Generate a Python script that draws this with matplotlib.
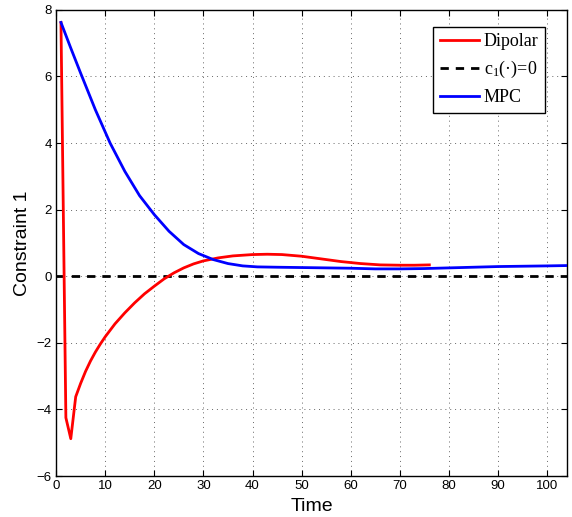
import matplotlib
matplotlib.use("Agg")
import matplotlib.pyplot as plt
import numpy as np

plt.rcParams["mathtext.fontset"] = "custom"
plt.rcParams["mathtext.rm"] = "Liberation Serif"
plt.rcParams["mathtext.it"] = "Liberation Serif:italic"

dip_x = [1, 2, 3, 4, 5, 6, 7, 8, 9, 10, 12, 14, 16, 18, 20, 22, 24, 26, 28, 30, 33, 36, 40, 43, 46, 50, 54, 58, 62, 66, 70, 73, 76]
dip_y = [7.62, -4.25, -4.88, -3.62, -3.22, -2.86, -2.55, -2.28, -2.04, -1.82, -1.43, -1.10, -0.80, -0.53, -0.30, -0.08, 0.10, 0.25, 0.37, 0.46, 0.55, 0.61, 0.65, 0.66, 0.65, 0.60, 0.52, 0.44, 0.38, 0.34, 0.33, 0.33, 0.34]

mpc_x = [1, 3, 5, 8, 11, 14, 17, 20, 23, 26, 29, 32, 35, 38, 41, 45, 50, 55, 60, 65, 70, 75, 80, 85, 90, 95, 100, 104]
mpc_y = [7.62, 6.85, 6.1, 5.0, 4.0, 3.15, 2.42, 1.85, 1.35, 0.95, 0.68, 0.50, 0.38, 0.31, 0.28, 0.27, 0.26, 0.25, 0.24, 0.22, 0.22, 0.23, 0.25, 0.27, 0.29, 0.30, 0.31, 0.32]

zero_x = [0, 104]
zero_y = [0, 0]

xticks = [0, 10, 20, 30, 40, 50, 60, 70, 80, 90, 100]
yticks = [-6, -4, -2, 0, 2, 4, 6, 8]

fig = plt.figure(figsize=(5.72, 5.17), dpi=100)
ax = fig.add_axes([0.098, 0.0793, 0.893, 0.9017])

ax.plot(dip_x, dip_y, color="#ff0000", lw=2.0, label="Dipolar", zorder=3)
ax.plot(zero_x, zero_y, color="black", lw=2.0, ls=(0, (3, 2.5)), label=r"c$_{\rm 1}$" + "(\u00b7)=0", zorder=2)
ax.plot(mpc_x, mpc_y, color="#0000ff", lw=2.0, label="MPC", zorder=3)

ax.set_xlim(0, 104)
ax.set_ylim(-6, 8)
ax.set_xticks(xticks)
ax.set_yticks(yticks)
ax.set_xticklabels([str(t) for t in xticks], family="Liberation Sans", fontsize=9.5)
ax.set_yticklabels([str(t).replace("-", "\u2212") for t in yticks], family="Liberation Sans", fontsize=9.5)
ax.tick_params(direction="in", top=True, right=True, length=4, width=0.8, pad=3)
ax.grid(True, ls=(0, (1, 4)), color="#666666", lw=0.7)
for s in ax.spines.values():
    s.set_linewidth(1.0)

ax.set_xlabel("Time", family="Liberation Sans", fontsize=14, labelpad=4.5)
ax.set_ylabel("Constraint 1", family="Liberation Sans", fontsize=14, labelpad=4)

leg = ax.legend(loc="upper right", bbox_to_anchor=(0.957, 0.9635), prop={"family": "Liberation Serif", "size": 13},
                frameon=True, fancybox=False, edgecolor="black", framealpha=1, handlelength=2.2,
                borderpad=0.35, labelspacing=0.5, handletextpad=0.25, borderaxespad=0)
leg.get_frame().set_linewidth(1.0)

fig.savefig("out.png", dpi=100)
